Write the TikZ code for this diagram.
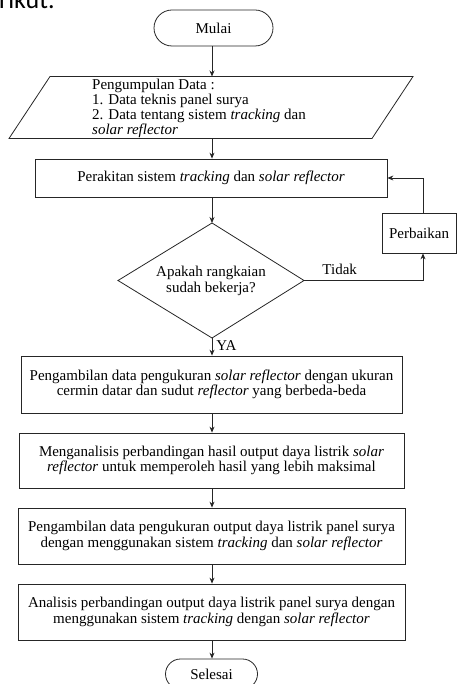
\documentclass[tikz,border=0pt]{standalone}
\usepackage{fontspec}
\setmainfont{Liberation Serif}
\newfontfamily\calib{Carlito}
\usetikzlibrary{arrows.meta}
\begin{document}
\begin{tikzpicture}[x=1pt,y=-1pt,
  every node/.style={font=\fontsize{15}{15.5}\selectfont, inner sep=0pt},
  flow/.style={draw=black!85, line width=0.8pt},
  arr/.style={flow,-{Stealth[length=6pt,width=5pt]}},
  procbox/.style={flow, rectangle, align=center},
  termbox/.style={flow, rectangle, rounded corners=15pt, minimum height=32pt},
  lbl/.style={font=\fontsize{15}{15.5}\selectfont}]
\useasboundingbox (0,0) rectangle (457,684);
\begin{scope}
\clip (0,0) rectangle (457,684);
% cut-off heading text
\node[anchor=base west, font=\calib\fontsize{26}{30}\selectfont] (hdr) at (-1,9) {rikut.};
% start
\node[termbox, minimum width=119pt, minimum height=36pt, rounded corners=18pt] (start) at (213.5,28) {Mulai};
% data parallelogram
\coordinate (ptl) at (50,76.5);
\coordinate (ptr) at (413,76.5);
\coordinate (pbr) at (372,138.5);
\coordinate (pbl) at (9,138.5);
\draw[flow] (ptl) -- (ptr) -- (pbr) -- (pbl) -- cycle;
\coordinate (ptop) at (212,76.5);
\coordinate (pbot) at (212,138.5);
\node[anchor=north west, align=left, font=\fontsize{15}{15}\selectfont] (data) at (92,78.5) {Pengumpulan Data :\\1. Data teknis panel surya\\2. Data tentang sistem \textit{tracking} dan\\\textit{solar reflector}};
% assembly
\node[procbox, minimum width=352pt, minimum height=38pt] (assemble) at (211,178) {Perakitan sistem \textit{tracking} dan \textit{solar reflector}};
% decision diamond
\coordinate (dt) at (212,223);
\coordinate (dl) at (118,280.5);
\coordinate (dr) at (304,280.5);
\coordinate (db) at (212,338);
\draw[flow] (dt) -- (dr) -- (db) -- (dl) -- cycle;
\node[align=center] (dec) at (211,281) {Apakah rangkaian\\sudah bekerja?};
% repair
\node[procbox, minimum width=74pt, minimum height=40pt] (fix) at (419,233) {Perbaikan};
% process boxes
\node[procbox, minimum width=381pt, minimum height=57pt] (m1) at (211.5,384.5) {Pengambilan data pengukuran \textit{solar reflector} dengan ukuran\\cermin datar dan sudut \textit{reflector} yang berbeda-beda};
\node[procbox, minimum width=385pt, minimum height=55pt] (m2) at (211.5,460.5) {Menganalisis perbandingan hasil output daya listrik \textit{solar}\\\textit{reflector} untuk memperoleh hasil yang lebih maksimal};
\node[procbox, minimum width=387pt, minimum height=56pt] (m3) at (211.5,536) {Pengambilan data pengukuran output daya listrik panel surya\\dengan menggunakan sistem \textit{tracking} dan \textit{solar reflector}};
\node[procbox, minimum width=387pt, minimum height=56pt] (m4) at (211.5,612) {Analisis perbandingan output daya listrik panel surya dengan\\menggunakan sistem \textit{tracking} dengan \textit{solar reflector}};
% end
\node[termbox, minimum width=92pt, minimum height=30pt, rounded corners=15pt] (stop) at (211.5,674) {Selesai};
% connectors
\draw[arr] (start.south -| ptop) -- (ptop);
\draw[arr] (pbot) -- (pbot |- assemble.north);
\draw[arr] (assemble.south -| dt) -- (dt);
\draw[arr] (db) -- (db |- m1.north) node[lbl, pos=0.45, anchor=west, xshift=4pt] (ya) {YA};
\draw[arr] (dr) -| ([xshift=4pt]fix.south) node[lbl, pos=0.15, anchor=south, yshift=5pt] (tidak) {Tidak};
\draw[arr] ([xshift=4pt]fix.north) |- (assemble.east);
\draw[arr] (m1.south -| db) -- (m2.north -| db);
\draw[arr] (m2.south -| db) -- (m3.north -| db);
\draw[arr] (m3.south -| db) -- (m4.north -| db);
\draw[arr] (m4.south -| db) -- (stop.north -| db);
\end{scope}
\end{tikzpicture}
\end{document}
